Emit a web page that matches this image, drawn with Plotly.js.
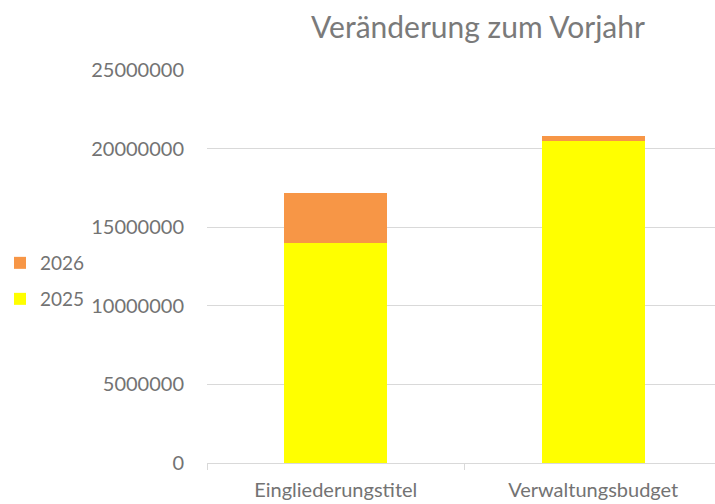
<!DOCTYPE html>
<html>
<head>
<meta charset="utf-8">
<script src="https://cdn.plot.ly/plotly-3.0.1.min.js"></script>
<style>html,body{margin:0;padding:0;background:#fff;}#chart{width:715px;height:504px;}</style>
</head>
<body>
<div id="chart"></div>
<script>
const categories = ["Eingliederungstitel", "Verwaltungsbudget"];
const values2025 = [13970000, 20480000];
const values2026 = [3190000, 320000];
const yTickValues = [0, 5000000, 10000000, 15000000, 20000000, 25000000];

const fontFamily = "Lato, 'Open Sans', sans-serif";
const textColor = "#737373";
const traces = [
  {type: "bar", name: "2025", x: categories, y: values2025, width: 0.4,
   marker: {color: "#FFFF00"}, legend: "legend2", hoverinfo: "y+name"},
  {type: "bar", name: "2026", x: categories, y: values2026, width: 0.4,
   marker: {color: "#F79646"}, legend: "legend", hoverinfo: "y+name"}
];
const layout = {
  width: 715, height: 504,
  barmode: "stack",
  paper_bgcolor: "#ffffff", plot_bgcolor: "#ffffff",
  margin: {l: 207, r: 0, t: 70, b: 41},
  font: {family: fontFamily, color: textColor, size: 20},
  title: {text: "Veränderung zum Vorjahr", x: 478 / 715, xanchor: "center", xref: "container",
          y: 1 - 27 / 504, yanchor: "middle", yref: "container",
          font: {family: fontFamily, size: 30, color: "#7a7a7a"}},
  xaxis: {type: "category", range: [-0.5, 1.473], showgrid: false, showline: true,
          linecolor: "#d9d9d9", linewidth: 1, tickson: "boundaries", ticks: "outside",
          ticklen: 6, tickcolor: "#d9d9d9", ticklabelstandoff: 9,
          tickfont: {size: 20, color: textColor}},
  yaxis: {range: [0, 25000000], tickvals: yTickValues, tickformat: "d",
          showgrid: true, gridcolor: "#d9d9d9", gridwidth: 1, zeroline: false,
          showline: false, ticks: "", ticklabelstandoff: 22,
          tickfont: {size: 20, color: textColor}},
  showlegend: true,
  legend: {x: 0, y: 1 - 263 / 504, xref: "container", yref: "container",
           xanchor: "left", yanchor: "middle",
           font: {size: 19, color: textColor}, bgcolor: "rgba(0,0,0,0)", itemwidth: 30},
  legend2: {x: 0, y: 1 - 299 / 504, xref: "container", yref: "container",
           xanchor: "left", yanchor: "middle",
           font: {size: 19, color: textColor}, bgcolor: "rgba(0,0,0,0)", itemwidth: 30}
};
Plotly.newPlot("chart", traces, layout, {displayModeBar: false, staticPlot: true});
</script>
</body>
</html>
